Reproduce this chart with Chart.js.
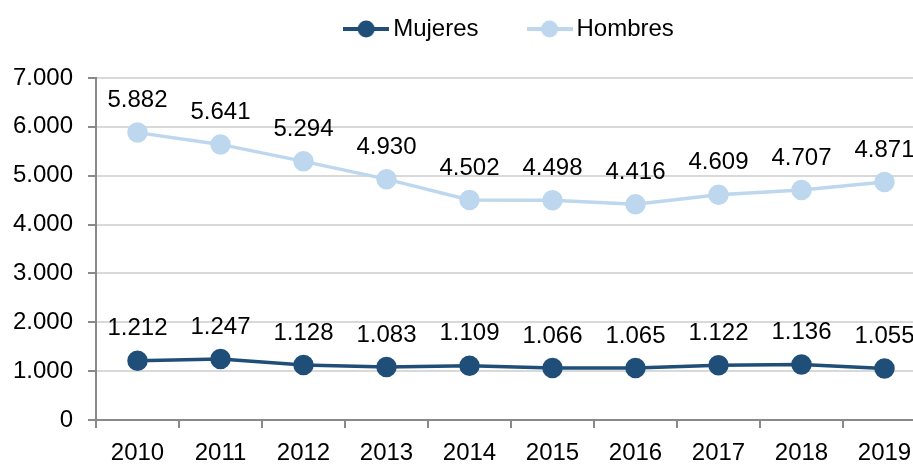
<!DOCTYPE html>
<html>
<head>
<meta charset="utf-8">
<script src="https://cdn.jsdelivr.net/npm/chart.js@4.4.0/dist/chart.umd.min.js"></script>
<style>
  html, body { margin: 0; padding: 0; background: #fff; overflow: hidden; }
  #grafica { display: block; }
</style>
</head>
<body>
<canvas id="grafica" width="913" height="464"></canvas>
<script>
const years = ['2010', '2011', '2012', '2013', '2014', '2015', '2016', '2017', '2018', '2019'];
const mujeres = [1212, 1247, 1128, 1083, 1109, 1066, 1065, 1122, 1136, 1055];
const hombres = [5882, 5641, 5294, 4930, 4502, 4498, 4416, 4609, 4707, 4871];
const yTicks = [0, 1000, 2000, 3000, 4000, 5000, 6000, 7000];

const FONT = '"Liberation Sans", Arial, sans-serif';
const fmt = v => String(v).replace(/\B(?=(\d{3})+(?!\d))/g, '.');

// marca de leyenda: linea con circulo
function legendMark(color) {
    const c = document.createElement('canvas');
    c.width = 46; c.height = 18;
    const g = c.getContext('2d');
    g.strokeStyle = color;
    g.lineWidth = 4;
    g.beginPath(); g.moveTo(0, 9); g.lineTo(46, 9); g.stroke();
    g.fillStyle = color;
    g.beginPath(); g.arc(23, 9, 8.5, 0, Math.PI * 2); g.fill();
    return c;
}

const etiquetas = {
    id: 'etiquetas',
    afterLayout(chart) {
        // mover la leyenda a su sitio
        const lg = chart.legend;
        lg.left += 56; lg.right += 56;
        lg.top -= 27; lg.bottom -= 27;
        // el area del grafico sigue mas alla del borde derecho
        const sx = chart.scales.x;
        const extra = 926 - sx.right;
        sx.right += extra; sx.width += extra;
        sx.configure();
        chart.chartArea.right += extra;
        chart.chartArea.width += extra;
    },
    afterDatasetsDraw(chart) {
        const ctx = chart.ctx;
        ctx.save();
        ctx.font = '24px ' + FONT;
        ctx.fillStyle = '#000';
        ctx.textAlign = 'center';
        ctx.textBaseline = 'middle';
        chart.data.datasets.forEach((ds, i) => {
            chart.getDatasetMeta(i).data.forEach((pt, j) => {
                ctx.fillText(fmt(ds.data[j]), pt.x, pt.y - 32);
            });
        });
        ctx.restore();
    }
};

const ctx = document.getElementById('grafica').getContext('2d');
const grafica = new Chart(ctx, {
    type: 'line',
    data: {
        labels: years,
        datasets: [{
            label: 'Mujeres',
            data: mujeres,
            borderColor: '#1F4E79',
            backgroundColor: '#1F4E79',
            borderWidth: 3.5,
            pointRadius: 8.5,
            pointHoverRadius: 8.5,
            tension: 0
        }, {
            label: 'Hombres',
            data: hombres,
            borderColor: '#BDD7EE',
            backgroundColor: '#BDD7EE',
            borderWidth: 3.5,
            pointRadius: 8.5,
            pointHoverRadius: 8.5,
            tension: 0
        }]
    },
    options: {
        responsive: false,
        animation: false,
        devicePixelRatio: 1,
        layout: { autoPadding: false, padding: { left: 0, right: 0, top: 28, bottom: 0 } },
        scales: {
            x: {
                offset: true,
                afterFit: s => { s.height = 44; },
                ticks: {
                    color: '#000',
                    font: { size: 24, family: FONT },
                    padding: 11
                },
                grid: {
                    offset: true,
                    drawOnChartArea: false,
                    drawTicks: true,
                    tickLength: 8,
                    color: '#898989',
                    lineWidth: 2
                },
                border: { color: '#898989', width: 2 }
            },
            y: {
                min: 0,
                max: 7000,
                afterFit: s => { s.width = 96; },
                afterBuildTicks: axis => { axis.ticks = yTicks.map(v => ({ value: v })); },
                ticks: {
                    color: '#000',
                    font: { size: 24, family: FONT },
                    padding: 15,
                    callback: v => fmt(v)
                },
                grid: {
                    color: '#D9D9D9',
                    lineWidth: 2,
                    tickLength: 8,
                    tickColor: '#898989',
                    tickWidth: 2
                },
                border: { color: '#898989', width: 2 }
            }
        },
        plugins: {
            legend: {
                display: true,
                position: 'top',
                labels: {
                    color: '#000',
                    font: { size: 24, family: FONT },
                    usePointStyle: true,
                    pointStyleWidth: 30,
                    padding: 16,
                    generateLabels: chart => chart.data.datasets.map((ds, i) => ({
                        text: i === 0 ? ds.label + '      ' : ds.label,
                        pointStyle: legendMark(ds.borderColor),
                        fillStyle: ds.borderColor,
                        strokeStyle: ds.borderColor,
                        lineWidth: 0,
                        hidden: false,
                        datasetIndex: i,
                        fontColor: '#000'
                    }))
                }
            },
            title: { display: false },
            tooltip: { enabled: false }
        }
    },
    plugins: [etiquetas]
});
</script>
</body>
</html>
